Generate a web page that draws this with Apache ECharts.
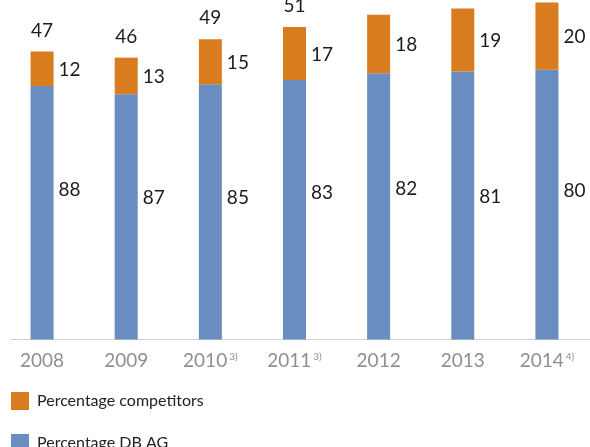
<!DOCTYPE html>
<html>
<head>
<meta charset="utf-8">
<script src="https://cdn.jsdelivr.net/npm/echarts@6/dist/echarts.min.js"></script>
<style>
  html, body { margin: 0; padding: 0; background: #ffffff; }
  #chart { width: 590px; height: 447px; }
</style>
</head>
<body>
<div id="chart"></div>
<script>
// Market volume per year with the split between DB AG and competitors (in %)
const years = ['2008', '2009', '2010', '2011', '2012', '2013', '2014'];
const yearNotes = ['', '', '3)', '3)', '', '', '4)'];
const totals = [47, 46, 49, 51, 53, 54, 55];
const shareCompetitors = [12, 13, 15, 17, 18, 19, 20];
const shareDB = [88, 87, 85, 83, 82, 81, 80];

// vertical nudge of the DB AG share labels
const dbLabelShift = [-23, -19, -14, -17, -17, -9, -14];

const ORANGE = '#D87C1F';
const BLUE = '#6A8DC1';
const FONT = 'Lato';
const Y_MAX = 55.4;

const chart = echarts.init(document.getElementById('chart'), null, { renderer: 'canvas' });

const valueLabel = {
  show: true,
  fontFamily: FONT,
  fontSize: 19,
  color: '#1c1c1c'
};

const legendBase = {
  orient: 'vertical',
  left: 11,
  padding: 0,
  icon: 'rect',
  itemWidth: 18,
  itemHeight: 18,
  textStyle: { fontFamily: FONT, fontSize: 16, color: '#222222', padding: [0, 0, 0, 3] }
};

chart.setOption({
  animation: false,
  grid: [
    { left: -2.5, right: 1, top: 0, bottom: 107.5 },
    { left: 11, right: -5, top: 0, bottom: 107.5 }
  ],
  xAxis: [
    {
      type: 'category',
      gridIndex: 0,
      data: years,
      axisLine: { show: false },
      axisTick: { show: false },
      axisLabel: {
        interval: 0,
        margin: 12,
        formatter: (v, i) => yearNotes[i] ? `{y|${v}}{s|${yearNotes[i]}}` : `{y|${v}}`,
        rich: {
          y: { fontFamily: FONT, fontSize: 19, color: '#8f8f8f' },
          s: { fontFamily: FONT, fontSize: 10, color: '#8f8f8f', verticalAlign: 'top', lineHeight: 12, padding: [0, 0, 0, 2] }
        }
      }
    },
    {
      type: 'category',
      gridIndex: 1,
      data: years,
      axisLine: { show: true, lineStyle: { color: '#cfcfcf', width: 1 } },
      axisTick: { show: false },
      axisLabel: { show: false }
    }
  ],
  yAxis: [
    { type: 'value', gridIndex: 0, min: 0, max: Y_MAX, show: false },
    { type: 'value', gridIndex: 1, min: 0, max: Y_MAX, show: false }
  ],
  legend: [
    Object.assign({}, legendBase, { top: 392, data: ['Percentage competitors'] }),
    Object.assign({}, legendBase, { top: 434, data: ['Percentage DB AG'] })
  ],
  series: [
    {
      name: 'Percentage DB AG',
      type: 'bar',
      stack: 'market',
      barWidth: 23,
      itemStyle: { color: BLUE },
      label: Object.assign({}, valueLabel, {
        position: 'right',
        distance: 5,
        formatter: p => String(shareDB[p.dataIndex])
      }),
      data: shareDB.map((p, i) => ({
        value: totals[i] * p / 100,
        label: { offset: [0, dbLabelShift[i]] }
      }))
    },
    {
      name: 'Percentage competitors',
      type: 'bar',
      stack: 'market',
      barWidth: 23,
      itemStyle: { color: ORANGE },
      label: Object.assign({}, valueLabel, {
        position: 'right',
        distance: 5,
        offset: [0, 1],
        formatter: p => String(shareCompetitors[p.dataIndex])
      }),
      data: shareCompetitors.map((p, i) => totals[i] * p / 100)
    },
    {
      // totals written above each stacked bar
      name: 'Total',
      type: 'scatter',
      symbolSize: 1,
      itemStyle: { color: 'rgba(0,0,0,0)', opacity: 1 },
      label: Object.assign({}, valueLabel, {
        position: 'top',
        distance: 11,
        formatter: p => String(totals[p.dataIndex])
      }),
      data: totals
    }
  ]
});
</script>
</body>
</html>
